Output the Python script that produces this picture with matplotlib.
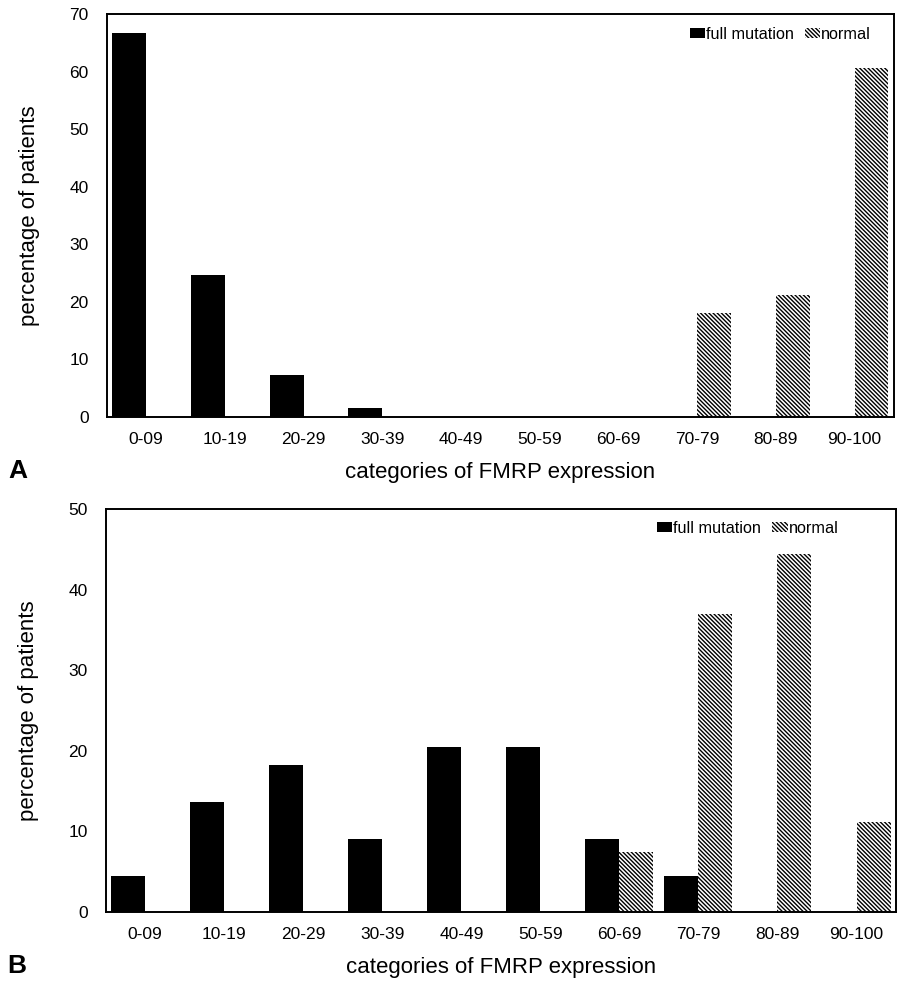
import matplotlib
matplotlib.use("Agg")
import matplotlib.pyplot as plt
import numpy as np

plt.rcParams['font.family'] = ['Liberation Sans', 'DejaVu Sans']
plt.rcParams['hatch.linewidth'] = 1.0

# FMRP expression categories and percentage of patients per group
categories = ["0-09", "10-19", "20-29", "30-39", "40-49",
              "50-59", "60-69", "70-79", "80-89", "90-100"]

# panel A
full_a = [66.7, 24.6, 7.3, 1.5, 0, 0, 0, 0, 0, 0]
normal_a = [0, 0, 0, 0, 0, 0, 0, 18.0, 21.1, 60.6]

# panel B
full_b = [4.5, 13.6, 18.2, 9.1, 20.5, 20.5, 9.1, 4.5, 0, 0]
normal_b = [0, 0, 0, 0, 0, 0, 7.4, 37.0, 44.4, 11.1]

HATCH = "\\" * 8
BAR_W = 0.43


def draw_panel(ax, full, normal, ymax, legend_xy, letter):
    x = np.arange(len(categories))
    ax.bar(x - BAR_W / 2, full, BAR_W, color="black", linewidth=0,
           label="full mutation")
    ax.bar(x + BAR_W / 2, normal, BAR_W, color="white", edgecolor="black",
           hatch=HATCH, linewidth=0, label="normal")

    ax.set_xlim(-0.5, len(categories) - 0.5)
    ax.set_ylim(0, ymax)
    ax.set_yticks(np.arange(0, ymax + 1, 10))
    ax.set_xticks(x)
    ax.set_xticklabels(categories)
    ax.tick_params(length=0, labelsize=12.5)
    ax.tick_params(axis="x", pad=11)
    ax.tick_params(axis="y", pad=13)
    for sp in ax.spines.values():
        sp.set_linewidth(1.4)

    ax.set_xlabel("categories of FMRP expression", fontsize=16, labelpad=11)
    ax.set_ylabel("percentage of patients", fontsize=16, labelpad=21)

    ax.legend(loc="upper right", bbox_to_anchor=legend_xy, ncol=2,
              frameon=False, fontsize=11.7, handlelength=0.95,
              handleheight=0.55, handletextpad=0.05, columnspacing=0.7,
              borderpad=0, borderaxespad=0)

    ax.text(-0.125, -0.135, letter, transform=ax.transAxes, fontsize=19,
            fontweight="bold", ha="left", va="center")


fig = plt.figure(figsize=(8.99, 9.81), dpi=100)
ax_a = fig.add_axes([0.1187, 0.5752, 0.8757, 0.4105])
ax_b = fig.add_axes([0.1176, 0.0706, 0.8791, 0.4102])

draw_panel(ax_a, full_a, normal_a, 70, (0.971, 0.968), "A")
draw_panel(ax_b, full_b, normal_b, 50, (0.927, 0.971), "B")

fig.savefig("out.png", dpi=100)
